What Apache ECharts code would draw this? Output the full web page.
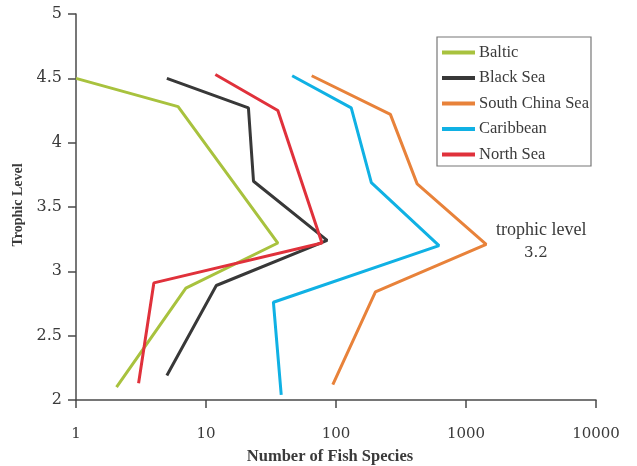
<!DOCTYPE html>
<html>
<head>
<meta charset="utf-8">
<script src="https://cdn.jsdelivr.net/npm/echarts@6/dist/echarts.min.js"></script>
<style>html,body{margin:0;padding:0;background:#fff}#c{width:637px;height:466px}</style>
</head>
<body>
<div id="c"></div>
<script>
// Data: [number of fish species, trophic level]
var seriesNames = ['Baltic', 'Black Sea', 'South China Sea', 'Caribbean', 'North Sea'];
var baltic = [[1.0, 4.5], [6.1, 4.28], [35.7, 3.22], [7.0, 2.87], [2.05, 2.1]];
var blackSea = [[5.0, 4.5], [21.2, 4.27], [23.2, 3.7], [85.5, 3.24], [12.0, 2.89], [5.0, 2.19]];
var southChinaSea = [[65, 4.52], [262, 4.22], [421, 3.68], [1430, 3.21], [201, 2.84], [94.5, 2.12]];
var caribbean = [[46, 4.52], [131, 4.27], [187, 3.69], [620, 3.2], [33, 2.76], [37.9, 2.04]];
var northSea = [[11.8, 4.53], [35.7, 4.25], [78, 3.22], [3.97, 2.91], [3.03, 2.13]];
var xTicks = ['1', '10', '100', '1000', '10000'];
var yTicks = ['2', '2.5', '3', '3.5', '4', '4.5', '5'];
var annotationLines = ['trophic level', '3.2'];

var colors = ['#a8c23e', '#383838', '#e8823a', '#10b1e4', '#e0313b'];
var datasets = [baltic, blackSea, southChinaSea, caribbean, northSea];

var chart = echarts.init(document.getElementById('c'));
var axisColor = '#4a4a4a';
var textColor = '#3a3a3a';
chart.setOption({
  animation: false,
  color: colors,
  grid: {left: 76, right: 41, top: 14, bottom: 66, containLabel: false, outerBoundsMode: 'none'},
  legend: {
    orient: 'vertical',
    left: 437, top: 37,
    data: seriesNames,
    icon: 'rect',
    itemWidth: 33, itemHeight: 4,
    itemGap: 8.5,
    padding: [7, 2, 3, 5],
    borderColor: '#777', borderWidth: 1.2,
    textStyle: {fontFamily: 'Liberation Serif', fontSize: 16.5, color: textColor, lineHeight: 15, padding: [0, 0, 0, -1]}
  },
  xAxis: {
    type: 'log', logBase: 10, min: 1, max: 10000,
    name: 'Number of Fish Species', nameLocation: 'middle', nameGap: 48,
    nameTextStyle: {fontFamily: 'Liberation Serif', fontWeight: 'bold', fontSize: 16.5, color: textColor, padding: [0, 12, 0, 0]},
    axisLine: {lineStyle: {color: axisColor, width: 1.5}},
    axisTick: {show: true, length: 8, lineStyle: {color: axisColor, width: 1.5}},
    axisLabel: {margin: 27, fontFamily: 'DejaVu Serif', fontSize: 15, color: textColor,
      formatter: function (v) { var i = Math.round(Math.log10(v)); return xTicks[i] !== undefined ? xTicks[i] : ''; }},
    splitLine: {show: false}
  },
  yAxis: {
    type: 'value', min: 2, max: 5, interval: 0.5,
    name: 'Trophic Level', nameLocation: 'middle', nameGap: 46,
    nameTextStyle: {fontFamily: 'Liberation Serif', fontWeight: 'bold', fontSize: 14, color: textColor, padding: [0, 0, 0, 4]},
    axisLine: {show: true, lineStyle: {color: axisColor, width: 1.5}},
    axisTick: {show: true, length: 8, lineStyle: {color: axisColor, width: 1.5}},
    axisLabel: {margin: 14, fontFamily: 'DejaVu Serif', fontSize: 16, color: textColor,
      formatter: function (v) { var i = Math.round((v - 2) / 0.5); return yTicks[i] !== undefined ? yTicks[i] : ''; }},
    splitLine: {show: false}
  },
  graphic: [
    {type: 'text', left: 496, top: 221, style: {text: annotationLines[0], fontFamily: 'Liberation Serif', fontSize: 18, fill: textColor, width: 94, overflow: 'truncate', ellipsis: ''}},
    {type: 'text', left: 524, top: 246, style: {text: annotationLines[1], fontFamily: 'DejaVu Serif', fontSize: 15, fill: textColor}}
  ],
  series: seriesNames.map(function (n, i) {
    return {
      name: n, type: 'line', data: datasets[i],
      symbol: 'none', lineStyle: {width: 3, color: colors[i]},
      itemStyle: {color: colors[i]}
    };
  })
});
</script>
</body>
</html>
